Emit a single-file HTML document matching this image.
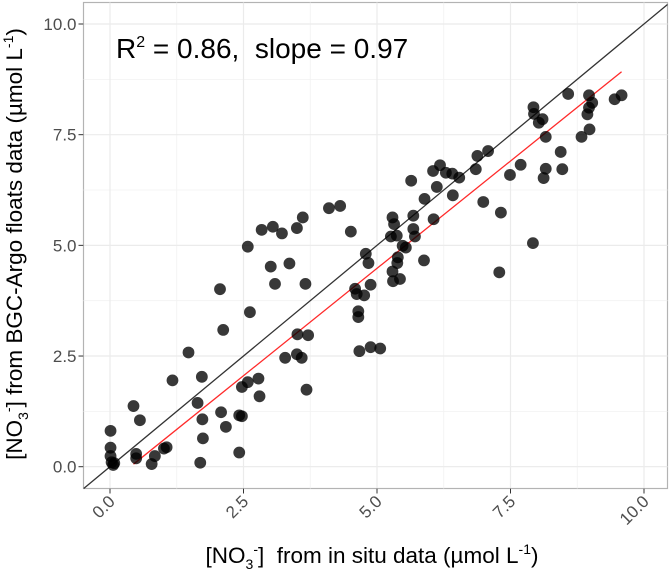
<!DOCTYPE html>
<html><head><meta charset="utf-8">
<style>
html,body{margin:0;padding:0;background:#fff;}
svg{display:block;font-family:"Liberation Sans",Arial,sans-serif;}
</style></head>
<body>
<svg id="chart" width="671" height="578" viewBox="0 0 671 578" xmlns="http://www.w3.org/2000/svg">
<rect x="83.5" y="2.5" width="584" height="486" fill="#fff" stroke="#b3b3b3" stroke-width="1.2"/>
<g id="grid"></g>
<g id="lines"></g>
<g id="points"></g>
<g id="axes"></g>
<text x="116" y="58" font-size="28" fill="#000">R<tspan font-size="16" dy="-11">2</tspan><tspan dy="11"> = 0.86,&#160; slope = 0.97</tspan></text>
<text x="372" y="563" font-size="22.5" text-anchor="middle" fill="#000">[NO<tspan font-size="14" dy="6">3</tspan><tspan font-size="14" dy="-15">-</tspan><tspan dy="9">]&#160; from in situ data (µmol L</tspan><tspan font-size="14" dy="-9">-1</tspan><tspan dy="9">)</tspan></text>
<text transform="translate(22,244) rotate(-90)" font-size="22.5" text-anchor="middle" fill="#000">[NO<tspan font-size="14" dy="6">3</tspan><tspan font-size="14" dy="-15">-</tspan><tspan dy="9">] from BGC-Argo floats data (µmol L</tspan><tspan font-size="14" dy="-9">-1</tspan><tspan dy="9">)</tspan></text>
</svg>
<script>
const xTicks = [0, 2.5, 5, 7.5, 10];
const yTicks = [0, 2.5, 5, 7.5, 10];
const xTickLabels = ["0.0", "2.5", "5.0", "7.5", "10.0"];
const yTickLabels = ["0.0", "2.5", "5.0", "7.5", "10.0"];
const insituX = [0.01,0.01,0.01,0.06,0.08,0.03,0.44,0.56,0.49,0.49,0.78,0.84,1.01,1.06,1.17,1.47,1.64,1.69,1.72,1.73,1.74,2.06,2.12,2.08,2.17,2.42,2.47,2.42,2.47,2.58,2.62,2.58,2.78,2.8,2.84,3.05,3.22,3.01,3.09,3.36,3.5,3.61,3.66,3.51,3.71,3.28,3.5,3.59,3.68,4.1,4.31,4.51,4.79,4.84,4.88,4.59,4.62,4.65,4.65,4.76,4.67,4.88,5.06,5.29,5.32,5.26,5.37,5.68,5.68,5.71,5.48,5.54,5.39,5.38,5.29,5.3,5.43,5.88,6.06,5.89,5.64,6.05,6.18,6.29,6.41,6.54,6.12,6.42,6.85,6.88,7.08,6.99,7.32,7.29,7.49,7.69,7.92,7.93,7.94,8.03,8.1,8.16,8.16,8.12,8.44,8.47,8.58,8.83,8.98,8.97,9.03,8.97,8.94,9.45,9.58];
const floatY = [0.81,0.43,0.24,0.04,0.08,0.1,1.37,1.05,0.29,0.19,0.06,0.24,0.41,0.44,1.95,2.58,1.44,0.09,2.03,1.07,0.64,4.01,3.09,1.23,0.9,1.16,1.14,0.32,1.8,4.97,3.49,1.91,1.99,1.59,5.35,5.42,5.27,4.52,4.13,4.59,5.39,5.63,4.13,2.99,2.97,2.46,2.54,2.46,1.74,5.84,5.89,5.31,4.81,4.6,4.11,4.02,3.9,3.51,3.38,3.87,2.61,2.7,2.67,5.63,5.48,5.2,5.22,5.67,5.37,5.2,4.99,4.95,4.73,4.6,4.41,4.19,4.24,4.66,5.59,6.05,6.46,6.68,6.81,6.64,6.62,6.53,6.32,6.13,6.72,7.02,7.13,5.98,5.74,4.39,6.59,6.82,5.05,8.12,7.97,7.77,7.85,7.45,6.73,6.52,7.11,6.72,8.42,7.45,7.62,8.39,8.22,8.11,7.96,8.3,8.39];
const fitSlope = [0.97];
const fitIntercept = [-0.37];
const fitRange = [0.44, 9.58];

const NS = "http://www.w3.org/2000/svg";
const X0 = 110, XS = 53.4, Y0 = 466.7, YS = 44.27;
const L = 83.5, R = 667.5, T = 2.5, B = 488.5;
function sx(v){ return X0 + v*XS; }
function sy(v){ return Y0 - v*YS; }
function mk(tag, attrs, parent){ const e = document.createElementNS(NS, tag); for (const k in attrs) e.setAttribute(k, attrs[k]); parent.appendChild(e); return e; }

const grid = document.getElementById('grid');
const axes = document.getElementById('axes');
for (let i = -1; i < xTicks.length; i++) {
  const v = (i < 0 ? xTicks[0] - 1.25 : xTicks[i]);
  const mid = v + 1.25;
  if (sx(mid) > L && sx(mid) < R) { const g = mk('line', {x1:sx(mid), x2:sx(mid), y1:T, y2:B, stroke:'#f2f2f2', 'stroke-width':0.8}, grid);
      }
}
for (let i = -1; i < yTicks.length; i++) {
  const v = (i < 0 ? yTicks[0] - 1.25 : yTicks[i]);
  const mid = v + 1.25;
  if (sy(mid) > T && sy(mid) < B) { const g = mk('line', {x1:L, x2:R, y1:sy(mid), y2:sy(mid), stroke:'#f2f2f2', 'stroke-width':0.8}, grid);
      }
}
xTicks.forEach((v, i) => {
  const g = mk('line', {x1:sx(v), x2:sx(v), y1:T, y2:B, stroke:'#ebebeb', 'stroke-width':1.2}, grid);
   
  const t = mk('line', {x1:sx(v), x2:sx(v), y1:B, y2:B+5, stroke:'#333', 'stroke-width':1}, axes);
   
  const lb = mk('text', {x:0, y:0, 'font-size':17, fill:'#4d4d4d', 'text-anchor':'end', transform:`translate(${sx(v)+6},${B+14}) rotate(-45)`}, axes);
  lb.textContent = xTickLabels[i];
   
});
yTicks.forEach((v, i) => {
  const g = mk('line', {x1:L, x2:R, y1:sy(v), y2:sy(v), stroke:'#ebebeb', 'stroke-width':1.2}, grid);
   
  const t = mk('line', {x1:L-5, x2:L, y1:sy(v), y2:sy(v), stroke:'#333', 'stroke-width':1}, axes);
   
  const lb = mk('text', {x:L-7, y:sy(v)+6, 'font-size':17, fill:'#4d4d4d', 'text-anchor':'end'}, axes);
  lb.textContent = yTickLabels[i];
   
});

const lines = document.getElementById('lines');
const xa = (L - X0)/XS, xb = (R - X0)/XS;
const ya = (B - Y0)/-YS, yb = (T - Y0)/-YS;
const lo = Math.max(xa, ya), hi = Math.min(xb, yb);
const one = mk('line', {x1:sx(lo), y1:sy(lo), x2:sx(hi), y2:sy(hi), stroke:'#333', 'stroke-width':1.3}, lines);
 

const pts = document.getElementById('points');
for (let i = 0; i < insituX.length; i++) {
  const c = mk('circle', {cx:sx(insituX[i]), cy:sy(floatY[i]), r:5.9, fill:'#000', 'fill-opacity':0.78}, pts);
  
  
}
const fit = mk('line', {x1:sx(fitRange[0]), y1:sy(fitSlope[0]*fitRange[0]+fitIntercept[0]), x2:sx(fitRange[1]), y2:sy(fitSlope[0]*fitRange[1]+fitIntercept[0]), stroke:'#ff2a2a', 'stroke-width':1.3}, lines);
 
</script>
</body></html>
